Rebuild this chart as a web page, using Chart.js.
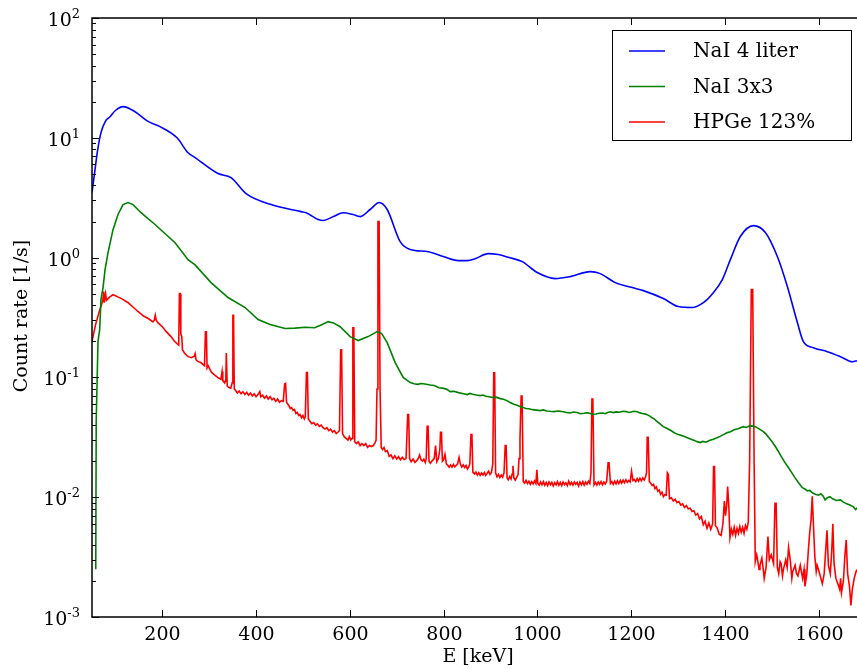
<!DOCTYPE html>
<html>
<head>
<meta charset="utf-8">
<script src="https://cdn.jsdelivr.net/npm/chart.js@4/dist/chart.umd.min.js"></script>
<style>
  html, body { margin: 0; padding: 0; background: #fff; }
  canvas { display: block; }
</style>
</head>
<body>
<canvas id="spectrumChart" width="857" height="669"></canvas>
<script>
// series labels
const seriesLabels = ['NaI 4 liter', 'NaI 3x3', 'HPGe 123%'];

// NaI 4 liter: [energy keV, count rate 1/s]
const blueSpectrum = [
    [50, 3.49], [56.4, 5.43], [62, 7.9], [69.2, 11.05], [78, 13.6], [88.4, 15.0], [100, 16.9], [116.2, 18.2],
    [141.8, 16.5], [169.5, 13.7], [195.1, 12.4], [231.4, 10.0], [254.9, 7.5], [269.9, 6.84], [318.9, 5.03],
    [346.7, 4.65], [378.7, 3.42], [432.1, 2.77], [496.1, 2.42], [506.8, 2.37], [532.4, 2.08], [543.1, 2.04],
    [565, 2.2], [585.8, 2.37], [605, 2.3], [622.1, 2.2], [643.4, 2.52], [662.6, 2.88], [679.7, 2.52],
    [707.4, 1.36], [728.8, 1.17], [767.2, 1.12], [799.2, 1.02], [831.2, 0.944], [850.4, 0.944], [867.5, 0.98],
    [895.3, 1.08], [916.6, 1.06], [940, 1.0], [967.8, 0.926], [999.9, 0.75], [1038.3, 0.668], [1070.3, 0.694],
    [1113, 0.764], [1134.3, 0.735], [1166.3, 0.618], [1202.6, 0.562], [1226.1, 0.53], [1268.8, 0.455],
    [1300.8, 0.39], [1330.7, 0.383], [1354.2, 0.421], [1375.5, 0.51], [1394.7, 0.655], [1411.8, 0.962],
    [1433.1, 1.5], [1460.9, 1.85], [1486.5, 1.62], [1512.1, 1.02], [1533.4, 0.573], [1554.8, 0.287],
    [1567.6, 0.199], [1588.9, 0.177], [1618.8, 0.164], [1646.6, 0.149], [1672.2, 0.135], [1683, 0.138]
];

// NaI 3x3
const greenSpectrum = [
    [58, 0.0025], [59, 0.044], [62.8, 0.2], [66.4, 0.25], [69.2, 0.45], [73.5, 0.56], [78, 0.8], [84.2, 1.1],
    [94.8, 1.71], [105.5, 2.29], [116.2, 2.77], [126.8, 2.88], [137.5, 2.77], [154.6, 2.37], [184.5, 1.89],
    [227.2, 1.33], [254.9, 0.96], [269.9, 0.87], [304, 0.618], [340.3, 0.464], [376.6, 0.383], [404.3, 0.304],
    [429.9, 0.276], [461.9, 0.256], [483, 0.258], [504.6, 0.262], [525, 0.26], [540, 0.275], [553.7, 0.292],
    [565, 0.285], [579.4, 0.265], [600.7, 0.219], [617.8, 0.203], [639.1, 0.219], [658.3, 0.241], [668, 0.232],
    [679.7, 0.195], [696.8, 0.133], [713.8, 0.1], [728.8, 0.0905], [737, 0.0885], [745, 0.0875], [752, 0.089],
    [760, 0.088], [771.5, 0.0864], [780, 0.0855], [790, 0.082], [800, 0.081], [807, 0.0795], [814.2, 0.0761],
    [822, 0.0765], [830, 0.075], [840, 0.0735], [850.4, 0.0719], [856, 0.0735], [862, 0.0722], [870, 0.0712],
    [878.2, 0.0705], [884, 0.0712], [890, 0.0695], [897, 0.069], [905, 0.068], [912, 0.0684], [920.9, 0.0665],
    [928, 0.0658], [935, 0.064], [942, 0.0618], [950, 0.0598], [957, 0.0585], [963.6, 0.057], [969, 0.0562],
    [975, 0.055], [982, 0.0548], [990, 0.0538], [998, 0.0533], [1006.3, 0.0528], [1013, 0.0535], [1020, 0.0525],
    [1027, 0.0521], [1035, 0.0518], [1045, 0.0524], [1055.3, 0.0516], [1062, 0.051], [1070, 0.0505],
    [1077, 0.0514], [1085, 0.051], [1092, 0.0498], [1100, 0.0502], [1106, 0.0508], [1112.9, 0.0499],
    [1118, 0.0492], [1125, 0.0495], [1132, 0.0502], [1140, 0.0505], [1145, 0.0498], [1150, 0.051],
    [1156, 0.0516], [1162.1, 0.0508], [1168, 0.0515], [1175, 0.0512], [1182, 0.0521], [1190, 0.0518],
    [1195, 0.0509], [1200, 0.0514], [1206, 0.0522], [1213.3, 0.0516], [1218, 0.0508], [1224, 0.05],
    [1229, 0.0496], [1234.6, 0.0489], [1240, 0.0475], [1245, 0.046], [1250, 0.0448], [1255, 0.043],
    [1262, 0.041], [1268.8, 0.0388], [1276, 0.0376], [1285, 0.036], [1292, 0.0345], [1300.8, 0.0333],
    [1310, 0.0325], [1320, 0.0314], [1327, 0.0306], [1335, 0.0298], [1341, 0.0291], [1347.7, 0.0286],
    [1353, 0.0292], [1360, 0.0288], [1367, 0.0297], [1375.5, 0.0305], [1382, 0.0312], [1390, 0.0322],
    [1397, 0.0333], [1405.4, 0.0346], [1412, 0.0352], [1420, 0.0365], [1428, 0.0372], [1439.5, 0.0388],
    [1446, 0.0382], [1452, 0.0392], [1458, 0.0394], [1465.2, 0.0388], [1473, 0.0372], [1482.2, 0.0353],
    [1488, 0.0336], [1495, 0.031], [1501, 0.029], [1507.8, 0.0265], [1514, 0.0242], [1520, 0.022],
    [1527, 0.0198], [1535.6, 0.0177], [1542, 0.0162], [1550, 0.0145], [1558, 0.0131], [1565.5, 0.012],
    [1571, 0.0117], [1576, 0.0113], [1581, 0.0114], [1586.8, 0.0109], [1593, 0.0106], [1600, 0.0104],
    [1605, 0.0107], [1610, 0.0102], [1614, 0.0095], [1618.9, 0.0099], [1624, 0.0101], [1630, 0.0097],
    [1638, 0.0094], [1646.6, 0.0095], [1653, 0.0091], [1660, 0.0088], [1667, 0.0086], [1674.4, 0.0083],
    [1679, 0.0079], [1683, 0.0082]
];

// HPGe 123%
const redSpectrum = [
    [50, 0.2], [58, 0.28], [66, 0.36], [70, 0.4], [73, 0.44], [75, 0.52], [76, 0.42], [79, 0.5], [81, 0.44],
    [88, 0.47], [95, 0.49], [105, 0.47], [115, 0.45], [127, 0.42], [138, 0.385], [148, 0.355], [160, 0.325],
    [170, 0.31], [180, 0.29], [183, 0.3], [185, 0.33], [187, 0.3], [191, 0.285], [200, 0.265], [208, 0.242],
    [218, 0.22], [226, 0.2], [232, 0.19], [235, 0.186], [236.5, 0.5], [238, 0.5], [239.5, 0.23], [241.5, 0.22],
    [243, 0.17], [248, 0.158], [255, 0.149], [262, 0.146], [268, 0.15], [270, 0.158], [272, 0.14], [276, 0.136],
    [282, 0.133], [290, 0.125], [292, 0.24], [294, 0.24], [295.5, 0.12], [298, 0.125], [300, 0.12], [305, 0.11],
    [310, 0.106], [318, 0.1], [325, 0.096], [327.5, 0.112], [329, 0.094], [333, 0.09], [335.5, 0.095],
    [336.5, 0.16], [338.5, 0.085], [341, 0.083], [346, 0.081], [349, 0.09], [350.5, 0.33], [352, 0.33],
    [353.5, 0.08], [356, 0.078], [360, 0.074], [364, 0.077], [368, 0.073], [372, 0.076], [376, 0.072],
    [380, 0.075], [384, 0.071], [388, 0.074], [392, 0.07], [396, 0.073], [400, 0.069], [404, 0.072],
    [408, 0.076], [410, 0.069], [414, 0.071], [418, 0.067], [422, 0.07], [426, 0.066], [430, 0.069],
    [434, 0.065], [438, 0.067], [442, 0.063], [446, 0.066], [450, 0.062], [454, 0.064], [458, 0.063],
    [461, 0.088], [463, 0.089], [465, 0.062], [470, 0.058], [473, 0.055], [476, 0.056], [479, 0.053],
    [482, 0.054], [485, 0.05], [488, 0.051], [491, 0.048], [494, 0.049], [497, 0.046], [500, 0.048],
    [503, 0.045], [505, 0.047], [507.5, 0.11], [509.5, 0.11], [511.5, 0.045], [515, 0.043], [519, 0.041],
    [523, 0.042], [527, 0.04], [531, 0.041], [535, 0.039], [539, 0.04], [543, 0.038], [547, 0.037],
    [551, 0.038], [555, 0.036], [559, 0.037], [563, 0.035], [567, 0.036], [571, 0.034], [575, 0.035],
    [578, 0.036], [580.5, 0.17], [582.5, 0.17], [584.5, 0.034], [588, 0.032], [592, 0.031], [596, 0.03],
    [599, 0.032], [602, 0.03], [605, 0.031], [606.5, 0.26], [608.5, 0.26], [610.5, 0.029], [614, 0.028],
    [618, 0.029], [622, 0.027], [626, 0.028], [630, 0.027], [634, 0.028], [638, 0.026], [642, 0.027],
    [646, 0.0265], [650, 0.027], [654, 0.0285], [656, 0.03], [658, 0.08], [660, 2.0], [662.5, 2.0],
    [664.5, 0.08], [667, 0.026], [670, 0.025], [673, 0.026], [676, 0.024], [680, 0.0245], [684, 0.022],
    [688, 0.0225], [692, 0.021], [696, 0.0222], [700, 0.0208], [704, 0.0218], [708, 0.0205], [712, 0.0215],
    [716, 0.0206], [720, 0.021], [723.5, 0.049], [725.5, 0.049], [727.5, 0.021], [731, 0.0198],
    [735, 0.0208], [739, 0.0195], [743, 0.0203], [746, 0.021], [749, 0.0225], [752, 0.0205], [755, 0.02],
    [758, 0.0208], [761, 0.0195], [763, 0.021], [765, 0.039], [767, 0.039], [769, 0.02], [772, 0.0192],
    [776, 0.0202], [780, 0.021], [783, 0.027], [785.5, 0.0198], [789, 0.021], [792, 0.025], [793.5, 0.0348],
    [795.5, 0.0348], [797.5, 0.02], [800, 0.0205], [803, 0.0228], [806, 0.019], [809, 0.0185], [812, 0.0178],
    [815, 0.0186], [818, 0.0178], [821, 0.0188], [824, 0.0179], [827, 0.0185], [830, 0.019], [833, 0.0215],
    [836, 0.0188], [839, 0.0178], [842, 0.0186], [845, 0.0177], [848, 0.0184], [851, 0.0172], [854, 0.018],
    [856, 0.019], [858.5, 0.0333], [860.5, 0.0333], [862.5, 0.0162], [866, 0.0156], [869, 0.0162],
    [872, 0.0153], [875, 0.016], [878, 0.0152], [881, 0.0159], [884, 0.0153], [887, 0.0161], [890, 0.0152],
    [893, 0.0158], [896, 0.0165], [899, 0.0155], [902, 0.016], [905, 0.019], [907, 0.109], [909, 0.109],
    [911, 0.016], [914, 0.0148], [917, 0.0155], [920, 0.0146], [923, 0.0153], [926, 0.0147], [929, 0.016],
    [931.5, 0.027], [933.5, 0.027], [935.5, 0.0145], [938, 0.014], [941, 0.0149], [944, 0.0142],
    [946, 0.0155], [948, 0.0183], [950, 0.0145], [953, 0.0139], [956, 0.0146], [959, 0.0155], [961, 0.021],
    [963, 0.0305], [965.5, 0.07], [967.5, 0.07], [970, 0.0135], [973, 0.0131], [976, 0.0138], [979, 0.013],
    [982, 0.0136], [985, 0.0128], [988, 0.0135], [991, 0.0129], [994, 0.0137], [997, 0.013], [999, 0.0169],
    [1001, 0.0131], [1004, 0.0126], [1007, 0.0134], [1010, 0.0127], [1013, 0.0135], [1016, 0.0126],
    [1019, 0.0133], [1022, 0.0125], [1025, 0.0134], [1028, 0.0127], [1031, 0.0133], [1034, 0.0124],
    [1037, 0.0132], [1040, 0.0127], [1043, 0.0135], [1046, 0.0126], [1049, 0.0133], [1052, 0.0125],
    [1055, 0.0134], [1058, 0.0127], [1061, 0.0132], [1064, 0.0125], [1067, 0.0136], [1070, 0.0127],
    [1073, 0.0133], [1076, 0.0126], [1079, 0.0134], [1082, 0.0128], [1085, 0.0133], [1088, 0.0124],
    [1091, 0.0134], [1094, 0.0127], [1097, 0.0135], [1100, 0.0126], [1103, 0.0134], [1106, 0.0128],
    [1109, 0.0136], [1112, 0.013], [1114.5, 0.016], [1116.5, 0.066], [1118.5, 0.066], [1121, 0.0127],
    [1124, 0.0133], [1127, 0.0126], [1130, 0.0134], [1133, 0.0128], [1136, 0.0135], [1139, 0.0127],
    [1142, 0.0134], [1145, 0.0129], [1148, 0.0136], [1151, 0.0194], [1153, 0.0194], [1156, 0.013],
    [1159, 0.0135], [1162, 0.0128], [1165, 0.0136], [1168, 0.0129], [1171, 0.0137], [1174, 0.013],
    [1177, 0.0138], [1180, 0.0131], [1183, 0.0139], [1186, 0.0132], [1189, 0.014], [1192, 0.0133],
    [1195, 0.0138], [1198, 0.0134], [1201, 0.0165], [1204, 0.0138], [1207, 0.0141], [1210, 0.0135],
    [1213, 0.0143], [1216, 0.0136], [1219, 0.0144], [1222, 0.0137], [1225, 0.0145], [1228, 0.0139],
    [1231, 0.0148], [1233, 0.016], [1234.5, 0.0316], [1236.5, 0.0316], [1239, 0.0135], [1242, 0.0131],
    [1245, 0.0125], [1248, 0.0128], [1251, 0.0118], [1254, 0.0122], [1257, 0.0112], [1260, 0.0115],
    [1263, 0.0106], [1266, 0.011], [1269, 0.0101], [1272, 0.0105], [1275, 0.0104], [1277.5, 0.016],
    [1279.5, 0.0155], [1282, 0.0097], [1286, 0.0099], [1290, 0.0093], [1294, 0.0096], [1298, 0.009],
    [1302, 0.0092], [1306, 0.0086], [1310, 0.0088], [1314, 0.0082], [1318, 0.0085], [1322, 0.008],
    [1326, 0.0081], [1330, 0.0076], [1334, 0.0077], [1338, 0.0071], [1342, 0.0073], [1346, 0.0066],
    [1350, 0.0069], [1354, 0.0059], [1358, 0.0063], [1362, 0.0055], [1366, 0.0061], [1370, 0.0054],
    [1374, 0.006], [1376, 0.018], [1378, 0.018], [1380, 0.0058], [1384, 0.0055], [1388, 0.0049],
    [1392, 0.0048], [1396, 0.006], [1399, 0.0093], [1401.5, 0.007], [1404, 0.0085], [1406, 0.0123],
    [1408.5, 0.0085], [1411, 0.0046], [1414, 0.0054], [1417, 0.0049], [1420, 0.0056], [1423, 0.0048],
    [1426, 0.0055], [1429, 0.005], [1432, 0.0057], [1435, 0.0051], [1438, 0.0056], [1441, 0.005],
    [1444, 0.0058], [1447, 0.0054], [1450, 0.0062], [1453, 0.02], [1456.5, 0.54], [1459.5, 0.54],
    [1462.5, 0.02], [1465, 0.0029], [1468, 0.0033], [1470, 0.003], [1473, 0.0025], [1475, 0.0027],
    [1479, 0.0031], [1482, 0.0025], [1484, 0.0021], [1488, 0.0026], [1492, 0.0047], [1495, 0.003],
    [1499, 0.0033], [1504, 0.0028], [1507, 0.0089], [1509.5, 0.0089], [1512, 0.0026], [1515, 0.0023],
    [1518, 0.0029], [1520, 0.0028], [1523, 0.0022], [1525, 0.0025], [1530, 0.003], [1533, 0.0026],
    [1536, 0.0038], [1540, 0.0029], [1543, 0.0021], [1545, 0.0024], [1550, 0.0027], [1553, 0.0023],
    [1556, 0.0022], [1561, 0.0027], [1566, 0.0021], [1569, 0.0025], [1571, 0.0018], [1575, 0.0023],
    [1578, 0.0035], [1581, 0.005], [1584, 0.0065], [1586.5, 0.0102], [1589, 0.006], [1592, 0.0032],
    [1595, 0.0024], [1597, 0.0027], [1601, 0.0024], [1605, 0.0021], [1608, 0.0019], [1612, 0.0023],
    [1615, 0.0035], [1618, 0.0053], [1621, 0.0027], [1625, 0.0023], [1628, 0.0035], [1630.5, 0.006],
    [1633, 0.0028], [1637, 0.0021], [1641, 0.0019], [1645, 0.0017], [1647, 0.0021], [1649, 0.0016],
    [1653, 0.002], [1656, 0.0032], [1659, 0.0044], [1662, 0.0023], [1666, 0.0018], [1669, 0.00125],
    [1672, 0.0017], [1676, 0.0021], [1680, 0.0024], [1683, 0.0025]
];

// axis ticks
const xTickValues = [200, 400, 600, 800, 1000, 1200, 1400, 1600];
const yTickExponents = [-3, -2, -1, 0, 1, 2];

const FONT = '"DejaVu Serif", "Liberation Serif", serif';

function toPoints(pairs) {
    return pairs.map(p => ({ x: p[0], y: p[1] }));
}

const framePlugin = {
    id: 'framePlugin',
    afterDraw(chart) {
        const ctx = chart.ctx;
        const area = chart.chartArea;
        const xs = chart.scales.x;
        const ys = chart.scales.y;
        ctx.save();

        // frame
        ctx.strokeStyle = '#000';
        ctx.lineWidth = 1.5;
        ctx.beginPath();
        ctx.moveTo(area.right + 2, area.top);
        ctx.lineTo(area.left, area.top);
        ctx.lineTo(area.left, area.bottom);
        ctx.lineTo(area.right + 2, area.bottom);
        ctx.stroke();

        // x ticks, top and bottom, pointing inwards
        ctx.lineWidth = 1;
        ctx.fillStyle = '#000';
        ctx.font = '19px ' + FONT;
        ctx.textAlign = 'center';
        ctx.textBaseline = 'alphabetic';
        xTickValues.forEach(v => {
            const px = Math.round(xs.getPixelForValue(v)) + 0.5;
            ctx.beginPath();
            ctx.moveTo(px, area.bottom);
            ctx.lineTo(px, area.bottom - 7);
            ctx.moveTo(px, area.top);
            ctx.lineTo(px, area.top + 7);
            ctx.stroke();
            ctx.fillText(String(v), px, area.bottom + 23);
        });

        // y ticks, major and minor
        yTickExponents.forEach(e => {
            const py = Math.round(ys.getPixelForValue(Math.pow(10, e))) + 0.5;
            ctx.beginPath();
            ctx.moveTo(area.left, py);
            ctx.lineTo(area.left + 7, py);
            ctx.stroke();
            if (e < 2) {
                for (let m = 2; m <= 9; m++) {
                    const my = Math.round(ys.getPixelForValue(m * Math.pow(10, e))) + 0.5;
                    ctx.beginPath();
                    ctx.moveTo(area.left, my);
                    ctx.lineTo(area.left + 4, my);
                    ctx.stroke();
                }
            }
            // label 10^e
            const sup = String(e);
            ctx.textAlign = 'right';
            ctx.font = '13px ' + FONT;
            const supW = ctx.measureText(sup).width;
            ctx.fillText(sup, 80, py - 1);
            ctx.font = '19px ' + FONT;
            ctx.fillText('10', 80 - supW, py + 7);
        });

        // axis titles
        ctx.textAlign = 'center';
        ctx.textBaseline = 'middle';
        ctx.font = '19px ' + FONT;
        ctx.fillText('E [keV]', 478, 657);
        ctx.save();
        ctx.translate(22, 316);
        ctx.rotate(-Math.PI / 2);
        ctx.fillText('Count rate [1/s]', 0, 0);
        ctx.restore();

        // legend
        const colors = ['#0000ff', '#008000', '#ff0000'];
        ctx.fillStyle = '#fff';
        ctx.fillRect(612, 30, 239, 110);
        ctx.strokeStyle = '#000';
        ctx.lineWidth = 1;
        ctx.strokeRect(612.5, 30.5, 239, 110);
        ctx.font = '20px ' + FONT;
        ctx.textAlign = 'left';
        ctx.textBaseline = 'middle';
        seriesLabels.forEach((label, i) => {
            const ly = 51 + i * 35.5;
            ctx.strokeStyle = colors[i];
            ctx.lineWidth = 1.5;
            ctx.beginPath();
            ctx.moveTo(629, ly);
            ctx.lineTo(665, ly);
            ctx.stroke();
            ctx.fillStyle = '#000';
            ctx.fillText(label, 693, ly + 1);
        });

        ctx.restore();
    }
};

const ctx = document.getElementById('spectrumChart').getContext('2d');

new Chart(ctx, {
    type: 'line',
    data: {
        datasets: [{
            label: seriesLabels[0],
            data: toPoints(blueSpectrum),
            borderColor: '#0000ff',
            borderWidth: 1.6,
            cubicInterpolationMode: 'monotone'
        }, {
            label: seriesLabels[1],
            data: toPoints(greenSpectrum),
            borderColor: '#008000',
            borderWidth: 1.6,
            tension: 0
        }, {
            label: seriesLabels[2],
            data: toPoints(redSpectrum),
            borderColor: '#ff0000',
            borderWidth: 1.6,
            tension: 0
        }]
    },
    options: {
        responsive: false,
        animation: false,
        devicePixelRatio: 1,
        layout: { padding: { left: 92, top: 18, right: 0, bottom: 52 } },
        elements: { point: { radius: 0 } },
        plugins: {
            legend: { display: false },
            tooltip: { enabled: false }
        },
        scales: {
            x: { type: 'linear', min: 50, max: 1682, display: false },
            y: { type: 'logarithmic', min: 0.001, max: 100, display: false }
        }
    },
    plugins: [framePlugin]
});
</script>
</body>
</html>
